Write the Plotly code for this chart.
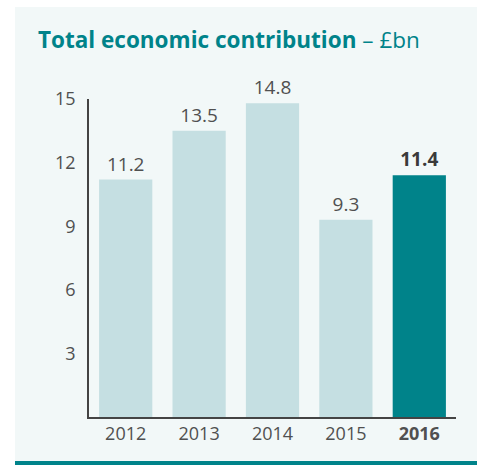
import plotly.graph_objects as go

# data
years = ["2012", "2013", "2014", "2015", "2016"]
values = [11.2, 13.5, 14.8, 9.3, 11.4]
value_labels = ["11.2", "13.5", "14.8", "9.3", "<b>11.4</b>"]
year_labels = ["2012", "2013", "2014", "2015", "<b>2016</b>"]
y_ticks = [3, 6, 9, 12, 15]

TEAL = "#00838a"
LIGHT = "#c5dfe2"
PANEL = "#f2f8f8"
GREY = "#505050"

bar_colors = [LIGHT, LIGHT, LIGHT, LIGHT, TEAL]
text_colors = [GREY, GREY, GREY, GREY, "#3a3a3a"]

W, H = 477, 465
L, T, PW, PH = 89, 99, 367, 318
R = W - L - PW
B = H - T - PH
base = T + PH  # baseline in pixels


def px_x(x):
    return (x - L) / PW


def px_y(y):
    return (base - y) / PH


bars = go.Bar(
    x=years,
    y=values,
    marker=dict(color=bar_colors, line=dict(width=0)),
    text=value_labels,
    textposition="outside",
    textfont=dict(size=19, color=text_colors, family="Open Sans"),
    cliponaxis=False,
    hoverinfo="x+y",
)

fig = go.Figure(data=[bars])

fig.update_layout(
    width=W,
    height=H,
    paper_bgcolor="white",
    plot_bgcolor="rgba(0,0,0,0)",
    margin=dict(l=L, r=R, t=T, b=B),
    bargap=0.275,
    showlegend=False,
    font=dict(family="Open Sans", color=GREY, size=18),
    title=dict(
        text="<b>Total economic contribution</b> – £bn",
        font=dict(size=22.5, color=TEAL, family="Open Sans"),
        x=38 / W,
        xanchor="left",
        xref="container",
        y=1 - 40 / H,
        yanchor="middle",
    ),
    xaxis=dict(
        tickvals=years,
        ticktext=year_labels,
        showgrid=False,
        zeroline=False,
        showline=True,
        linecolor="#444444",
        linewidth=1.5,
        ticks="",
        tickfont=dict(size=18, color=GREY),
        range=[-0.5, 4.5],
    ),
    yaxis=dict(
        range=[0, 15],
        tickvals=y_ticks,
        showgrid=False,
        zeroline=False,
        showline=True,
        linecolor="#444444",
        linewidth=1.5,
        ticks="",
        ticklabelstandoff=8,
        tickfont=dict(size=18, color=GREY),
    ),
    shapes=[
        # light panel behind everything
        dict(type="rect", xref="paper", yref="paper", layer="below",
             x0=px_x(15), x1=px_x(W), y0=px_y(461), y1=px_y(7),
             fillcolor=PANEL, line=dict(width=0)),
        # teal rule along the bottom
        dict(type="rect", xref="paper", yref="paper", layer="below",
             x0=px_x(15), x1=px_x(W), y0=px_y(H), y1=px_y(461),
             fillcolor=TEAL, line=dict(width=0)),
    ],
)

# drop the page's default 8px body margin so the figure fills the window
fig.write_html("out.html",
               config={"displayModeBar": False},
               post_script="document.body.style.margin='0';"
                           "document.body.style.overflow='hidden';")
